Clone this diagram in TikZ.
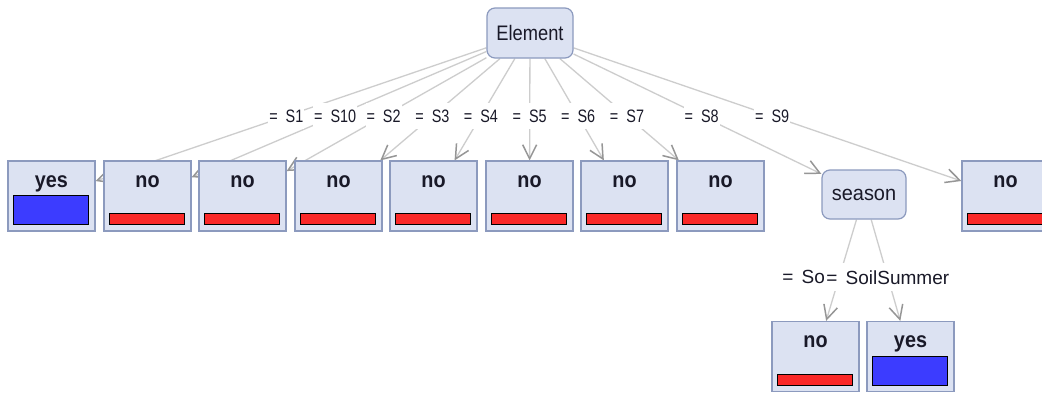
\documentclass[tikz,border=0pt]{standalone}
\usepackage{fontspec}
\setmainfont{Liberation Sans}
\newfontfamily\elfont{Liberation Sans}[FakeStretch=0.87]
\newfontfamily\seafont{Liberation Sans}[FakeStretch=0.95]
\newfontfamily\lblfont{Liberation Sans}[FakeStretch=0.8]
\newfontfamily\leaffont{Liberation Sans}[FakeStretch=0.9]
\usetikzlibrary{arrows.meta,calc}
\pgfdeclarelayer{bg}
\pgfsetlayers{bg,main}
\definecolor{boxfill}{RGB}{220,226,242}
\definecolor{boxdraw}{RGB}{140,154,190}
\definecolor{linegray}{RGB}{205,205,205}
\definecolor{arrgray}{RGB}{150,150,150}
\definecolor{barblue}{RGB}{60,60,255}
\definecolor{barred}{RGB}{250,40,40}
\definecolor{txt}{RGB}{25,25,40}
\tikzset{
  leaf/.style={draw=boxdraw, fill=boxfill, line width=1.2pt, minimum width=87pt, minimum height=70pt, inner sep=0pt},
  innerbox/.style={draw=boxdraw, fill=boxfill, line width=1.2pt, rounded corners=8pt, inner sep=0pt, text=txt},
  leaftext/.style={font=\leaffont\bfseries\fontsize{22}{24}\selectfont, text=txt, anchor=base, inner sep=0pt},
  bluebar/.style={draw=black, fill=barblue, line width=1.2pt},
  redbar/.style={draw=black, fill=barred, line width=1.2pt},
  edge/.style={draw=linegray, line width=1.3pt, -{Straight Barb[length=14pt,width=14pt,line width=1.5pt,color=arrgray]}},
  elabel/.style={font=\lblfont\fontsize{18}{20}\selectfont, text=txt, fill=white, inner xsep=1pt, inner ysep=7pt},
  slabel/.style={font=\fontsize{19}{21}\selectfont, text=txt, fill=white, inner xsep=1pt, inner ysep=7pt},
}
\newcommand{\noleaf}[3]{%
  \node[leaf] (#1) at (#2,#3) {};
  \node[leaftext] (#1t) at ($(#1.north)+(0,27)$) {no};
  \draw[redbar] ($(#1.south west)+(6,-7)$) rectangle ($(#1.south east)+(-7,-18)$);
}
\newcommand{\yesleaf}[3]{%
  \node[leaf] (#1) at (#2,#3) {};
  \node[leaftext] (#1t) at ($(#1.north)+(0,27)$) {yes};
  \draw[bluebar] ($(#1.south west)+(6,-7)$) rectangle ($(#1.south east)+(-7,-36)$);
}
\begin{document}
\begin{tikzpicture}[x=1pt,y=-1pt]
\path[use as bounding box] (0,0) rectangle (1042,392);
\clip (0,0) rectangle (1042,392);
\begin{pgfonlayer}{bg}
  \fill[white] (0,0) rectangle (1042,392);
\end{pgfonlayer}
\node[innerbox, minimum width=86pt, minimum height=50pt, font=\elfont\fontsize{21}{23}\selectfont] (E) at (530,33) {Element};
\node[innerbox, minimum width=84pt, minimum height=49pt, font=\seafont\fontsize{21}{23}\selectfont] (season) at (864,194.5) {season};
\yesleaf{y1}{51.5}{196}
\noleaf{n1}{147.5}{196}
\noleaf{n2}{242.5}{196}
\noleaf{n3}{338.5}{196}
\noleaf{n4}{433.5}{196}
\noleaf{n5}{529.5}{196}
\noleaf{n6}{624.5}{196}
\noleaf{n7}{720.5}{196}
\noleaf{n9}{1005.5}{196}
\noleaf{nb}{815.5}{356.5}
\yesleaf{yb}{910.5}{356.5}
\begin{pgfonlayer}{bg}
  \foreach \t in {y1,n1,n2,n3,n4,n5,n6,n7,season,n9}
    \draw[edge] (E) -- (\t);
  \draw[edge] (season) -- (nb);
  \draw[edge] (season) -- (yb);
\end{pgfonlayer}
\foreach \t/\l/\f in {y1/S1/0.5092, n1/S10/0.5092, n2/S2/0.5092, n3/S3/0.5092, n4/S4/0.5092, n5/S5/0.5092, n6/S6/0.5092, n7/S7/0.5092, season/S8/0.514, n9/S9/0.5092}
  \node[elabel] (l\l) at ($(E.center)!\f!(\t.center)$) {= \hspace{4pt}\l};
\node[slabel] (lss) at ($(season.center)!0.511!(yb.center)$) {= \hspace{3pt}SoilSummer};
\node[slabel, anchor=east, inner xsep=0pt] (lso) at (lss.west) {= \hspace{3pt}So};
\end{tikzpicture}
\end{document}
